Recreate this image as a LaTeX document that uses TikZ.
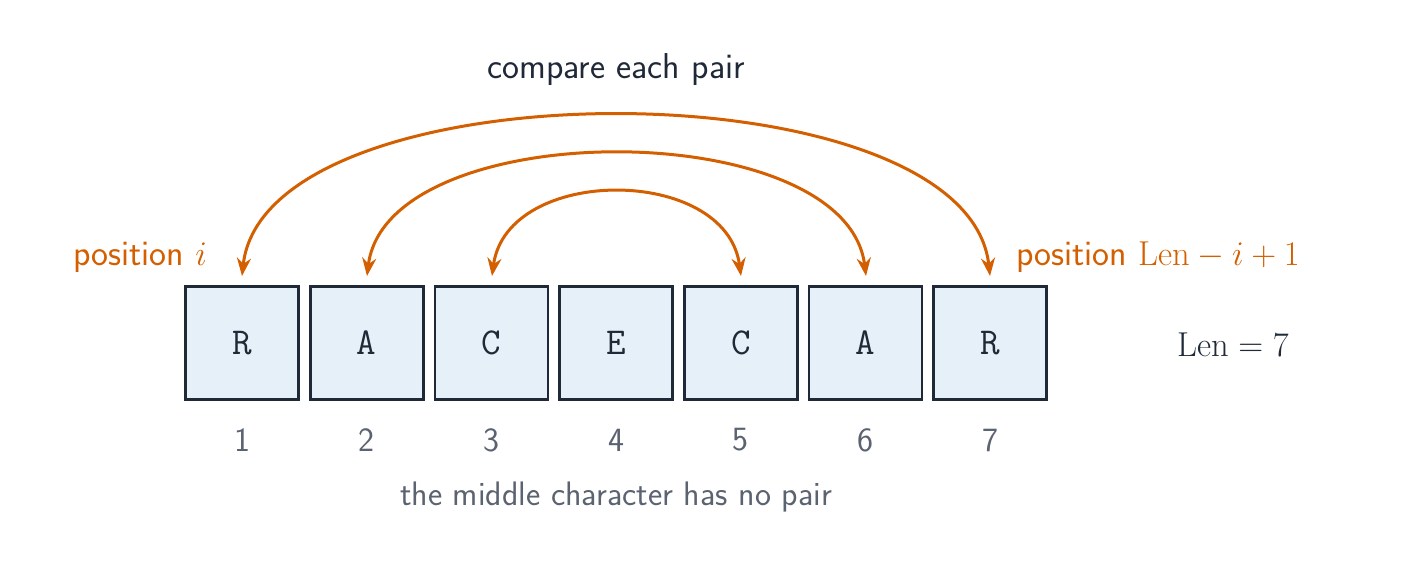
\documentclass[tikz,border=0pt]{standalone}
\usetikzlibrary{arrows.meta}
\definecolor{ink}{HTML}{1F2937}
\definecolor{org}{HTML}{D35F00}
\definecolor{gry}{HTML}{5B6270}
\definecolor{boxf}{HTML}{E6F0F8}
\begin{document}
\begin{tikzpicture}[x=0.5pt,y=-0.5pt,
  cell/.style={draw=ink,fill=boxf,line width=1.3pt,minimum width=56.5pt,minimum height=56.5pt,inner sep=0pt,font=\ttfamily\fontsize{19}{22}\selectfont,text=ink},
  num/.style={font=\sffamily\fontsize{17}{20}\selectfont,text=gry},
  arc/.style={draw=org,line width=1.5pt,{Stealth[length=9pt,width=7pt]}-{Stealth[length=9pt,width=7pt]}}]
\useasboundingbox (0,0) rectangle (1405,568);
\foreach \l [count=\i] in {R,A,C,E,C,A,R}{
  \node[cell] (c\i) at ({242+124.7*(\i-1)},343) {\l};
  \node[num] (n\i) at ({242+124.7*(\i-1)},440) {\i};
}
\coordinate (a1) at (242,276); \coordinate (b1) at (990,276);
\coordinate (a2) at (367,276); \coordinate (b2) at (866,276);
\coordinate (a3) at (492,276); \coordinate (b3) at (741,276);
\draw[arc] (a1) .. controls (265,63) and (967,63) .. (b1);
\draw[arc] (a2) .. controls (387,114) and (846,114) .. (b2);
\draw[arc] (a3) .. controls (507,165) and (726,165) .. (b3);
\node[font=\sffamily\fontsize{18}{22}\selectfont,text=ink] (t) at (616,70) {compare each pair};
\node[num,anchor=east,text=org,font=\sffamily\fontsize{18}{22}\selectfont] (pl) at (214,257) {position $i$};
\node[num,anchor=west,text=org,font=\sffamily\fontsize{18}{22}\selectfont] (pr) at (1009,257) {position $\mathrm{Len}-i+1$};
\node[text=ink,font=\fontsize{19}{22}\selectfont] (len) at (1233,345) {$\mathrm{Len}=7$};
\node[num] (m) at (616,497) {the middle character has no pair};
\end{tikzpicture}
\end{document}
